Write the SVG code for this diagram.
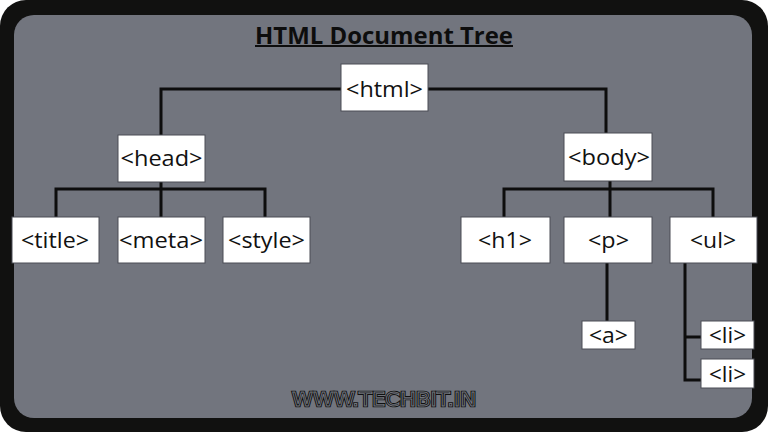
<svg xmlns="http://www.w3.org/2000/svg" width="768" height="432" viewBox="0 0 768 432">
<style>
.box{fill:#ffffff;stroke:#4a4d55;stroke-width:1}
.lbl{font-family:"Open Sans","Liberation Sans",sans-serif;font-size:21px;fill:#111;text-anchor:middle}
.con{fill:none;stroke:#0d0d0d;stroke-width:3;stroke-linecap:square}
.wm{font-family:"DejaVu Sans",sans-serif;font-size:19px;fill:none;text-anchor:middle}
</style>
<rect x="0" y="0" width="768" height="432" fill="#ffffff"/>
<rect x="0" y="0" width="768" height="432" rx="26" fill="#111110"/>
<rect x="14" y="15" width="738" height="403" rx="20" fill="#72757e"/>
<g id="title">
<text x="384" y="44" font-family="'Open Sans','Liberation Sans',sans-serif" font-size="23" font-weight="bold" fill="#0d0d0d" text-anchor="middle" textLength="258" lengthAdjust="spacingAndGlyphs">HTML Document Tree</text>
<rect x="255" y="45" width="258" height="2" fill="#0d0d0d"/>
</g>
<g id="connectors">
<path class="con" d="M161 135 V89 H606 V133"/>
<path class="con" d="M161 182 V189 M56 217 V189 H265 V217 M161 189 V217"/>
<path class="con" d="M610 181 V217 M504 217 V189 H713 V217"/>
<path class="con" d="M607 263 V321"/>
<path class="con" d="M685 263 V380 H701 M685 337 H701"/>
</g>
<g id="n-html"><rect class="box" x="341" y="64" width="87" height="47"/><text class="lbl" x="384.5" y="97" textLength="77" lengthAdjust="spacingAndGlyphs">&lt;html&gt;</text></g>
<g id="n-head"><rect class="box" x="118" y="135" width="87" height="47"/><text class="lbl" x="161.5" y="166" textLength="82" lengthAdjust="spacingAndGlyphs">&lt;head&gt;</text></g>
<g id="n-body"><rect class="box" x="564" y="133" width="88" height="48"/><text class="lbl" x="609" y="165" textLength="82" lengthAdjust="spacingAndGlyphs">&lt;body&gt;</text></g>
<g id="n-title"><rect class="box" x="12" y="217" width="87" height="46"/><text class="lbl" x="55" y="248" textLength="68" lengthAdjust="spacingAndGlyphs">&lt;title&gt;</text></g>
<g id="n-meta"><rect class="box" x="118" y="217" width="87" height="46"/><text class="lbl" x="161" y="248" textLength="84" lengthAdjust="spacingAndGlyphs">&lt;meta&gt;</text></g>
<g id="n-style"><rect class="box" x="223" y="217" width="87" height="46"/><text class="lbl" x="266.5" y="248" textLength="77" lengthAdjust="spacingAndGlyphs">&lt;style&gt;</text></g>
<g id="n-h1"><rect class="box" x="461" y="217" width="89" height="46"/><text class="lbl" x="505" y="248" textLength="54" lengthAdjust="spacingAndGlyphs">&lt;h1&gt;</text></g>
<g id="n-p"><rect class="box" x="564" y="217" width="88" height="46"/><text class="lbl" x="608.5" y="248" textLength="41" lengthAdjust="spacingAndGlyphs">&lt;p&gt;</text></g>
<g id="n-ul"><rect class="box" x="670" y="217" width="87" height="46"/><text class="lbl" x="713" y="248" textLength="46" lengthAdjust="spacingAndGlyphs">&lt;ul&gt;</text></g>
<g id="n-a"><rect class="box" x="582" y="321" width="53" height="28"/><text class="lbl" x="608.5" y="343" textLength="39" lengthAdjust="spacingAndGlyphs">&lt;a&gt;</text></g>
<g id="n-li1"><rect class="box" x="701" y="321" width="53" height="28"/><text class="lbl" x="727.5" y="343" textLength="37" lengthAdjust="spacingAndGlyphs">&lt;li&gt;</text></g>
<g id="n-li2"><rect class="box" x="701" y="359" width="53" height="29"/><text class="lbl" x="727.5" y="382" textLength="37" lengthAdjust="spacingAndGlyphs">&lt;li&gt;</text></g>
<g id="watermark">
<text class="wm" x="384" y="406" stroke="#111" stroke-width="2.6" textLength="184" lengthAdjust="spacingAndGlyphs">WWW.TECHBIT.IN</text>
<text class="wm" x="384" y="406" stroke="#72757e" stroke-width="0.9" textLength="184" lengthAdjust="spacingAndGlyphs">WWW.TECHBIT.IN</text>
</g>
</svg>
